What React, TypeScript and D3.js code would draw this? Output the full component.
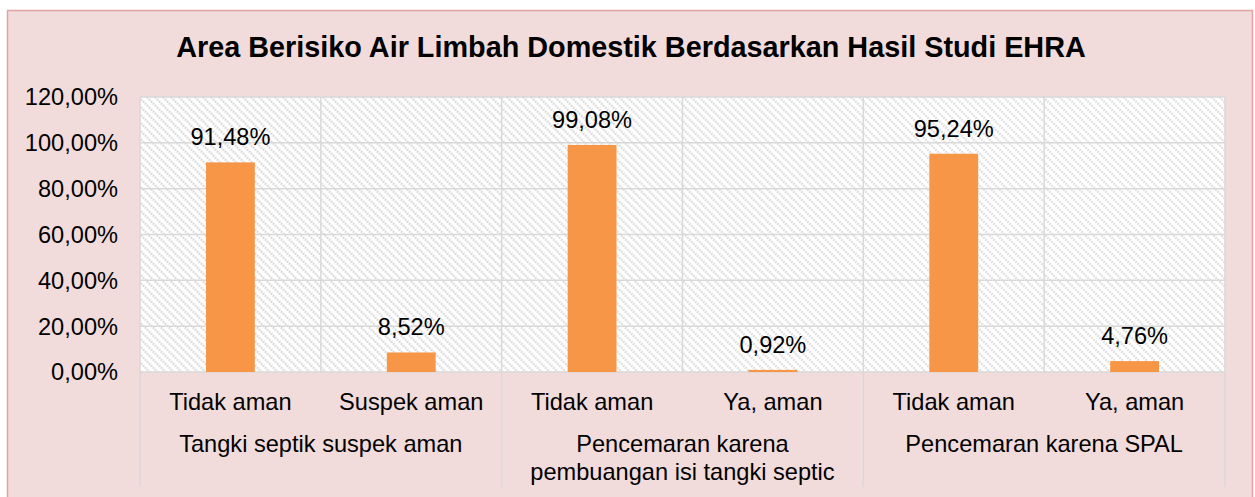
import React from "react";
import * as d3 from "d3";

const categories = ["Tidak aman", "Suspek aman", "Tidak aman", "Ya, aman", "Tidak aman", "Ya, aman"];
const values = [0.9148, 0.0852, 0.9908, 0.0092, 0.9524, 0.0476];
const valueLabels = ["91,48%", "8,52%", "99,08%", "0,92%", "95,24%", "4,76%"];
const groups = [
  ["Tangki septik suspek aman"],
  ["Pencemaran karena", "pembuangan isi tangki septic"],
  ["Pencemaran karena SPAL"],
];
const yTicks = [0, 0.2, 0.4, 0.6, 0.8, 1.0, 1.2];
const yTickLabels = ["0,00%", "20,00%", "40,00%", "60,00%", "80,00%", "100,00%", "120,00%"];
const title = "Area Berisiko Air Limbah Domestik Berdasarkan Hasil Studi EHRA";

const W = 1255;
const H = 497;
const plot = { left: 140, right: 1225, top: 97, bottom: 372 };
const FONT = "'Liberation Sans', Arial, sans-serif";
const GRID = "#d9d9d9";
const FS = 23.6;

export default function App() {
  const idx = categories.map((_, i) => i);
  const x = d3
    .scaleBand<number>()
    .domain(idx)
    .range([plot.left, plot.right])
    .paddingInner(0.73)
    .paddingOuter(0.365);
  const step = x.step();
  const y = d3.scaleLinear().domain([0, 1.2]).range([plot.bottom, plot.top]);
  const catCenter = (i: number) => (x(i) as number) + x.bandwidth() / 2;
  const sepX = (k: number) => plot.left + k * step;

  return (
    <svg
      width={W}
      height={H}
      style={{ position: "absolute", left: 0, top: 0 }}
      fontFamily={FONT}
    >
      <defs>
        <pattern
          id="hatch"
          patternUnits="userSpaceOnUse"
          width={5.66}
          height={5.66}
          patternTransform="rotate(-45)"
        >
          <rect width={5.66} height={5.66} fill="#ffffff" />
          <line x1={1.2} y1={0} x2={1.2} y2={5.66} stroke="#d2d2d2" strokeWidth={2} strokeDasharray="1.6 1.23" />
        </pattern>
      </defs>
      <rect x={0} y={0} width={W} height={H} fill="#ffffff" />
      <rect x={7.5} y={10.5} width={1245} height={500} fill="#f2dcdb" stroke="#e4a3a3" strokeWidth={1.5} />

      <text x={631} y={57} textAnchor="middle" fontWeight="bold" fontSize={28.8} fill="#000">
        {title}
      </text>

      <rect
        x={plot.left}
        y={plot.top}
        width={plot.right - plot.left}
        height={plot.bottom - plot.top}
        fill="url(#hatch)"
      />

      {yTicks.map((t, i) => (
        <g key={"t" + i}>
          <line x1={plot.left} x2={plot.right} y1={y(t)} y2={y(t)} stroke={GRID} strokeWidth={1.5} />
          <text x={118} y={y(t)} dy="0.36em" textAnchor="end" fontSize={FS} fill="#000">
            {yTickLabels[i]}
          </text>
        </g>
      ))}

      {d3.range(0, categories.length + 1).map((k) => (
        <line
          key={"s" + k}
          x1={sepX(k)}
          x2={sepX(k)}
          y1={plot.top}
          y2={k % 2 === 0 ? 487 : plot.bottom}
          stroke={GRID}
          strokeWidth={1.5}
        />
      ))}

      {values.map((v, i) => (
        <g key={"b" + i}>
          <rect
            x={x(i)}
            y={y(v)}
            width={x.bandwidth()}
            height={y(0) - y(v)}
            fill="#f79646"
          />
          <text x={catCenter(i)} y={y(v) - 17} textAnchor="middle" fontSize={FS} fill="#000">
            {valueLabels[i]}
          </text>
          <text x={catCenter(i)} y={410} textAnchor="middle" fontSize={FS} fill="#000">
            {categories[i]}
          </text>
        </g>
      ))}

      {groups.map((lines, g) => (
        <text key={"g" + g} x={(sepX(2 * g) + sepX(2 * g + 2)) / 2} y={452} textAnchor="middle" fontSize={FS} fill="#000">
          {lines.map((ln, j) => (
            <tspan key={j} x={(sepX(2 * g) + sepX(2 * g + 2)) / 2} dy={j === 0 ? 0 : 28}>
              {ln}
            </tspan>
          ))}
        </text>
      ))}
    </svg>
  );
}
